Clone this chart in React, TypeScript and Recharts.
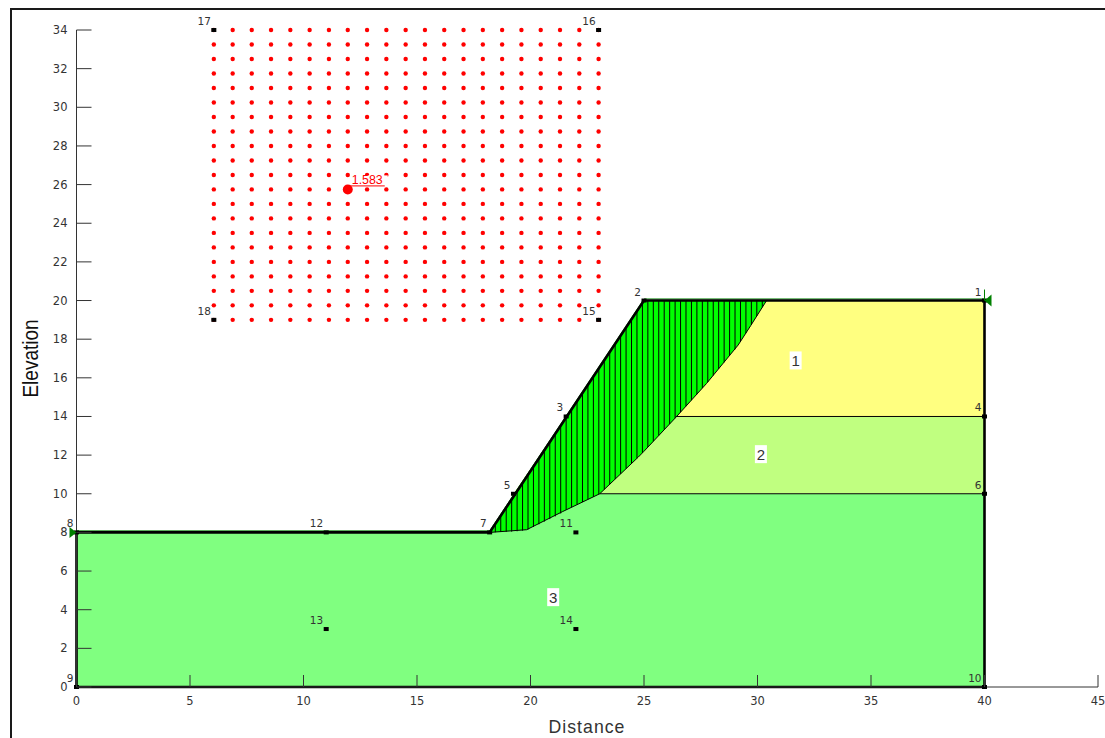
import { Area, ComposedChart, Line, Scatter, XAxis, YAxis } from 'recharts';

const xTicks = [0, 5, 10, 15, 20, 25, 30, 35, 40, 45];
const yTicks = [0, 2, 4, 6, 8, 10, 12, 14, 16, 18, 20, 22, 24, 26, 28, 30, 32, 34];

// search grid of slip centres
const gridX = [6.05, 6.88, 7.72, 8.57, 9.42, 10.27, 11.12, 11.95, 12.8, 13.65, 14.5, 15.35, 16.2, 17.05, 17.9, 18.75, 19.6, 20.45, 21.3, 22.15, 23];
const gridY = [34, 33.25, 32.5, 31.75, 31, 30.25, 29.5, 28.75, 28, 27.25, 26.5, 25.75, 25, 24.25, 23.5, 22.75, 22, 21.25, 20.5, 19.75, 19];
const critical = [{ x: 11.95, y: 25.75, factor: '1.583' }];

// soil layers: [x, bottom, top]
const soil3 = [
  { x: 0, band: [0, 8] },
  { x: 18.2, band: [0, 8] },
  { x: 19.25, band: [0, 10] },
  { x: 40, band: [0, 10] },
];
const soil2 = [
  { x: 19.25, band: [10, 10] },
  { x: 21.57, band: [10, 14] },
  { x: 40, band: [10, 14] },
];
const soil1 = [
  { x: 21.57, band: [14, 14] },
  { x: 25, band: [14, 20] },
  { x: 40, band: [14, 20] },
];

const sliceX = [18.45, 18.69, 18.93, 19.17, 19.41, 19.65, 19.89, 20.13, 20.37, 20.61, 20.85, 21.09, 21.33, 21.57, 21.81, 22.05, 22.29, 22.53, 22.77, 23.01, 23.25, 23.49, 23.73, 23.97, 24.21, 24.45, 24.69, 24.93, 25.17, 25.41, 25.65, 25.89, 26.13, 26.37, 26.61, 26.85, 27.09, 27.33, 27.57, 27.81, 28.05, 28.29, 28.53, 28.77, 29.01, 29.25, 29.49, 29.73, 29.97, 30.21];
const sliceBase = [8.01, 8.02, 8.03, 8.04, 8.06, 8.09, 8.15, 8.28, 8.42, 8.56, 8.69, 8.83, 8.98, 9.17, 9.3, 9.44, 9.57, 9.71, 9.84, 9.98, 10.22, 10.49, 10.76, 11.03, 11.3, 11.57, 11.84, 12.12, 12.42, 12.72, 13.02, 13.32, 13.61, 13.91, 14.22, 14.53, 14.84, 15.15, 15.47, 15.78, 16.12, 16.46, 16.8, 17.14, 17.47, 17.87, 18.31, 18.75, 19.2, 19.65];
const sliceTop = [8.44, 8.86, 9.29, 9.71, 10.14, 10.56, 10.98, 11.41, 11.83, 12.25, 12.68, 13.1, 13.52, 13.95, 14.37, 14.8, 15.22, 15.64, 16.07, 16.49, 16.91, 17.34, 17.76, 18.18, 18.61, 19.03, 19.46, 19.88, 20, 20, 20, 20, 20, 20, 20, 20, 20, 20, 20, 20, 20, 20, 20, 20, 20, 20, 20, 20, 20, 20];

const slipMass = [
  { x: 18.2, band: [8, 8] },
  { x: 19.83, band: [8.14, 10.88] },
  { x: 21.4, band: [9.07, 13.65] },
  { x: 23.05, band: [10, 16.56] },
  { x: 24.75, band: [11.9, 19.56] },
  { x: 25, band: [12.2, 20] },
  { x: 26.4, band: [13.95, 20] },
  { x: 27.75, band: [15.7, 20] },
  { x: 29.15, band: [17.7, 20] },
  { x: 29.7, band: [18.7, 20] },
  { x: 30.4, band: [20, 20] },
];
const slipLine = slipMass.map((p) => ({ x: p.x, y: p.band[0] }));

const boundary14 = [{ x: 26.4, y: 14 }, { x: 40, y: 14 }];
const boundary10 = [{ x: 23.05, y: 10 }, { x: 40, y: 10 }];
const profile = [
  { x: 0, y: 0 },
  { x: 0, y: 8 },
  { x: 18.2, y: 8 },
  { x: 25, y: 20 },
  { x: 40, y: 20 },
  { x: 40, y: 0 },
  { x: 0, y: 0 },
];
const waterLine = [
  { x: 0, y: 8.08 },
  { x: 18.2, y: 8.08 },
  { x: 25, y: 20.08 },
  { x: 40, y: 20.08 },
];

const nodeX = [40, 25, 21.57, 40, 19.25, 40, 18.2, 0, 0, 40, 22, 11, 11, 22, 23, 23, 6.05, 6.05];
const nodeY = [20, 20, 14, 14, 10, 10, 8, 8, 0, 0, 8, 8, 3, 3, 19, 34, 34, 19];
const nodeLabels = ['1', '2', '3', '4', '5', '6', '7', '8', '9', '10', '11', '12', '13', '14', '15', '16', '17', '18'];

const regions = [
  { x: 31.68, y: 16.9, name: '1' },
  { x: 30.15, y: 12.05, name: '2' },
  { x: 21, y: 4.65, name: '3' },
];

const FONT = '"Liberation Sans", Arial, sans-serif';
const TICK_FONT = '"DejaVu Sans", sans-serif';
const TICK_COLOR = '#333';

const gridPoints = gridY.flatMap((y) => gridX.map((x) => ({ x, y })));
const nodes = nodeX.map((x, i) => ({ x, y: nodeY[i], label: nodeLabels[i] }));
const slices = sliceX.map((x, i) => [
  { x, y: sliceBase[i] },
  { x, y: sliceTop[i] },
]);

function XTick({ x, y, payload }: any) {
  return (
    <g>
      <line x1={x} x2={x} y1={y} y2={y - 12} stroke={TICK_COLOR} strokeWidth={1} />
      <text x={x} y={y + 18} textAnchor="middle" fontSize={11.5} fontFamily={TICK_FONT} fill={TICK_COLOR}>
        {payload.value}
      </text>
    </g>
  );
}

function YTick({ x, y, payload }: any) {
  return (
    <g>
      <line x1={x} x2={x + 15} y1={y} y2={y} stroke={TICK_COLOR} strokeWidth={1} />
      <text x={x - 9} y={y + 4} textAnchor="end" fontSize={11.5} fontFamily={TICK_FONT} fill={TICK_COLOR}>
        {payload.value}
      </text>
    </g>
  );
}

function GridDot({ cx, cy }: any) {
  return <circle cx={cx} cy={cy} r={2.2} fill="#ff0000" />;
}

function CriticalDot({ cx, cy, payload }: any) {
  return (
    <g>
      <rect x={cx + 3} y={cy - 14} width={37} height={10} fill="#fff" />
      <circle cx={cx} cy={cy} r={5} fill="#ff0000" />
      <line x1={cx} x2={cx + 37} y1={cy - 3.5} y2={cy - 3.5} stroke="#ff0000" strokeWidth={1} />
      <text x={cx + 4} y={cy - 5} fontSize={12.4} fontFamily={FONT} fill="#ff0000">
        {payload.factor}
      </text>
    </g>
  );
}

function NodeMark({ cx, cy, payload }: any) {
  return (
    <g>
      <rect x={cx - 2.5} y={cy - 2} width={5} height={4} fill="#000" />
      <text x={cx - 3} y={cy - 5} textAnchor="end" fontSize={10.5} fontFamily={TICK_FONT} fill={TICK_COLOR}>
        {payload.label}
      </text>
    </g>
  );
}

function RegionLabel({ cx, cy, payload }: any) {
  return (
    <g>
      <rect x={cx - 6} y={cy - 9} width={12} height={18} fill="#fff" />
      <text x={cx} y={cy + 5.5} textAnchor="middle" fontSize={15} fontFamily={FONT} fill="#333">
        {payload.name}
      </text>
    </g>
  );
}

function LeftArrow({ cx, cy }: any) {
  return <path d={`M${cx - 7},${cy - 5.5} L${cx},${cy} L${cx - 7},${cy + 5.5} Z`} fill="#008000" />;
}

function RightArrow({ cx, cy }: any) {
  return (
    <g>
      <line x1={cx} x2={cx} y1={cy - 11} y2={cy} stroke="#008000" strokeWidth={1} />
      <path d={`M${cx + 7},${cy - 6} L${cx},${cy} L${cx + 7},${cy + 6} Z`} fill="#008000" />
    </g>
  );
}

export default function App() {
  return (
    <div style={{ position: 'absolute', left: 0, top: 0, width: 1105, height: 738, overflow: 'hidden', background: '#fff' }}>
      <div
        style={{
          position: 'absolute',
          left: 10,
          top: 8,
          width: 1095,
          height: 730,
          boxSizing: 'border-box',
          borderTop: '2.5px solid #1a1a1a',
          borderLeft: '2.5px solid #1a1a1a',
        }}
      />
      <ComposedChart
        width={1105}
        height={738}
        margin={{ top: 30, right: 7, bottom: 11, left: 10 }}
        style={{ position: 'absolute', left: 0, top: 0 }}
      >
        <Area data={soil3} dataKey="band" type="linear" fill="#80ff80" fillOpacity={1} stroke="none" dot={false} activeDot={false} isAnimationActive={false} />
        <Area data={soil2} dataKey="band" type="linear" fill="#c0ff80" fillOpacity={1} stroke="none" dot={false} activeDot={false} isAnimationActive={false} />
        <Area data={soil1} dataKey="band" type="linear" fill="#ffff80" fillOpacity={1} stroke="none" dot={false} activeDot={false} isAnimationActive={false} />
        <Area data={slipMass} dataKey="band" type="linear" fill="#00ff00" fillOpacity={1} stroke="none" dot={false} activeDot={false} isAnimationActive={false} />

        {slices.map((s, i) => (
          <Line key={i} data={s} dataKey="y" type="linear" stroke="#000" strokeWidth={1} dot={false} activeDot={false} isAnimationActive={false} />
        ))}
        <Line data={slipLine} dataKey="y" type="linear" stroke="#000" strokeWidth={1} dot={false} activeDot={false} isAnimationActive={false} />
        <Line data={boundary14} dataKey="y" type="linear" stroke="#000" strokeWidth={1} dot={false} activeDot={false} isAnimationActive={false} />
        <Line data={boundary10} dataKey="y" type="linear" stroke="#000" strokeWidth={1} dot={false} activeDot={false} isAnimationActive={false} />
        <Line data={waterLine} dataKey="y" type="linear" stroke="#008000" strokeWidth={1} dot={false} activeDot={false} isAnimationActive={false} />
        <Line data={profile} dataKey="y" type="linear" stroke="#000" strokeWidth={2.6} dot={false} activeDot={false} isAnimationActive={false} />

        <XAxis
          xAxisId={0}
          type="number"
          dataKey="x"
          domain={[0, 45]}
          ticks={xTicks}
          interval={0}
          height={40}
          tickSize={0}
          tickMargin={0}
          tickLine={false}
          tick={XTick}
          axisLine={{ stroke: TICK_COLOR, strokeWidth: 1 }}
          label={{
            content: () => (
              <text x={587} y={733} textAnchor="middle" fontSize={17.7} letterSpacing={1} fontFamily={FONT} fill="#333">
                Distance
              </text>
            ),
          }}
        />
        <YAxis
          yAxisId={0}
          type="number"
          domain={[0, 34]}
          ticks={yTicks}
          interval={0}
          width={66.5}
          tickSize={0}
          tickMargin={0}
          tickLine={false}
          tick={YTick}
          axisLine={{ stroke: TICK_COLOR, strokeWidth: 1 }}
          label={{
            content: () => (
              <text transform="translate(37.5,358.5) rotate(-90) scale(1,1.12)" textAnchor="middle" fontSize={19} fontFamily={FONT} fill="#111">
                Elevation
              </text>
            ),
          }}
        />

        <Scatter data={gridPoints} dataKey="y" shape={GridDot} isAnimationActive={false} />
        <Scatter data={nodes} dataKey="y" shape={NodeMark} isAnimationActive={false} />
        <Scatter data={critical} dataKey="y" shape={CriticalDot} isAnimationActive={false} />
        <Scatter data={regions} dataKey="y" shape={RegionLabel} isAnimationActive={false} />
        <Scatter data={[{ x: 0, y: 8 }]} dataKey="y" shape={LeftArrow} isAnimationActive={false} />
        <Scatter data={[{ x: 40, y: 20 }]} dataKey="y" shape={RightArrow} isAnimationActive={false} />
      </ComposedChart>
    </div>
  );
}
